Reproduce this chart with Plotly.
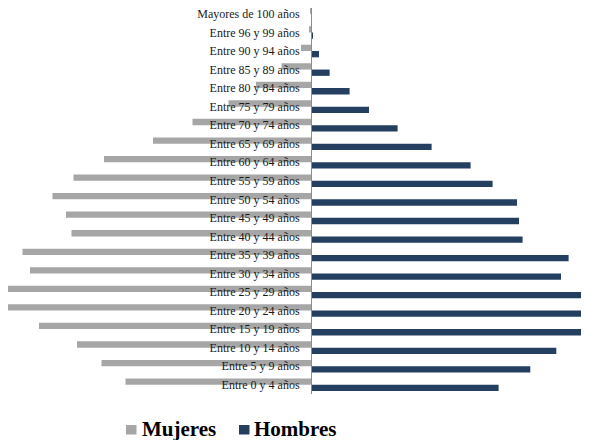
import plotly.graph_objects as go

categorias = ["Entre 0 y 4 años", "Entre 5 y 9 años", "Entre 10 y 14 años", "Entre 15 y 19 años",
              "Entre 20 y 24 años", "Entre 25 y 29 años", "Entre 30 y 34 años", "Entre 35 y 39 años",
              "Entre 40 y 44 años", "Entre 45 y 49 años", "Entre 50 y 54 años", "Entre 55 y 59 años",
              "Entre 60 y 64 años", "Entre 65 y 69 años", "Entre 70 y 74 años", "Entre 75 y 79 años",
              "Entre 80 y 84 años", "Entre 85 y 89 años", "Entre 90 y 94 años", "Entre 96 y 99 años",
              "Mayores de 100 años"]

mujeres = [185.5, 209.5, 234, 272, 303, 304, 281, 288.5, 239.5, 245, 258.5, 237.5,
           207, 158, 118.5, 82.5, 55, 29.5, 10, 1.2, 0.5]
hombres = [187.6, 219.3, 245.3, 273, 282, 274, 250, 257.6, 211.6, 208, 206, 181.6,
           159.6, 120.6, 86.6, 58, 38.6, 18.6, 8, 2, 1]

series_names = ["Mujeres", "Hombres"]
series_colors = ["#A6A6A6", "#243F60"]

# the page body has an 8px margin, so the figure is drawn 8px smaller
W, H = 581, 432
T, B = 0, 46
PH = H - T - B
axis_px = 303
x_left, x_right = -303, 278
bw = 0.34

fig = go.Figure()
fig.add_trace(go.Bar(
    y=categorias, x=[-v for v in mujeres], orientation="h", name=series_names[0],
    marker=dict(color=series_colors[0], line=dict(width=0)),
    width=bw, offset=0, hoverinfo="skip", showlegend=False,
))
fig.add_trace(go.Bar(
    y=categorias, x=hombres, orientation="h", name=series_names[1],
    marker=dict(color=series_colors[1], line=dict(width=0)),
    width=bw, offset=-bw, hoverinfo="skip", showlegend=False,
))

# manual legend (keeps the plot area from being shrunk by the legend)
def px_x(x):
    return x / W

def px_y(y):
    return (PH - (y - T)) / PH

legend_sq_x = [118, 231]
legend_txt_x = [132, 244]
for name, color, sx, tx in zip(series_names, series_colors, legend_sq_x, legend_txt_x):
    fig.add_shape(type="rect", xref="paper", yref="paper",
                  x0=px_x(sx), x1=px_x(sx + 10.5), y0=px_y(417), y1=px_y(426.5),
                  fillcolor=color, line=dict(width=0))
    fig.add_annotation(text=name, xref="paper", yref="paper",
                       x=px_x(tx), y=px_y(421), xanchor="left", yanchor="middle",
                       showarrow=False,
                       font=dict(family="Liberation Serif", size=21, color="#000000", weight="bold"))

fig.update_layout(
    width=W, height=H,
    barmode="overlay",
    margin=dict(l=0, r=0, t=T, b=B),
    paper_bgcolor="white", plot_bgcolor="white",
    showlegend=False,
    xaxis=dict(range=[x_left, x_right], showgrid=False, zeroline=False,
               showticklabels=False, showline=False, fixedrange=True),
    yaxis=dict(type="category", categoryorder="array", categoryarray=categorias,
               range=[-0.5, len(categorias) - 0.68],
               anchor="free", position=axis_px / W, side="left",
               showline=True, linecolor="#8C8C8C", linewidth=1,
               showgrid=False, zeroline=False, ticks="",
               ticklabelstandoff=9,
               tickfont=dict(family="Liberation Serif", size=12, color="#1A1A1A")),
)

fig.write_html("out.html")
